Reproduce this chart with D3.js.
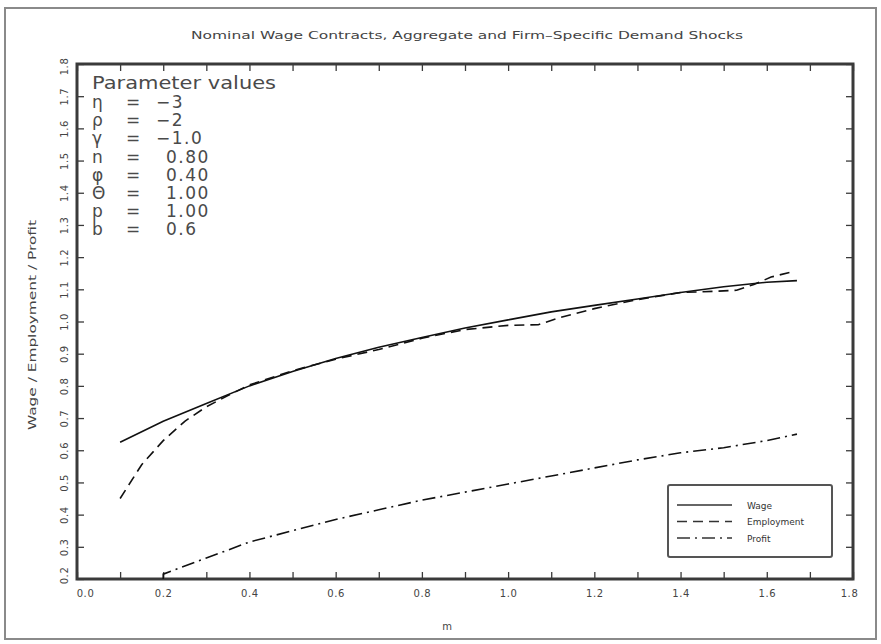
<!DOCTYPE html>
<html>
<head>
<meta charset="utf-8">
<script src="https://cdn.jsdelivr.net/npm/d3@7/dist/d3.min.js"></script>
<style>
  html, body { margin: 0; padding: 0; background: #fff; }
  svg { display: block; }
  text { font-family: "DejaVu Sans", sans-serif; }
</style>
</head>
<body>
<svg id="chart" width="881" height="644"></svg>
<script>
// ---------------- data ----------------
const titleText = "Nominal Wage Contracts, Aggregate and Firm\u2013Specific Demand Shocks";
const xTitle = "m";
const yTitle = "Wage / Employment / Profit";

const wageX = [0.10, 0.20, 0.30, 0.40, 0.50, 0.60, 0.70, 0.80, 0.90, 1.00, 1.10, 1.20, 1.30, 1.40, 1.50, 1.60, 1.67];
const wageY = [0.625, 0.690, 0.745, 0.800, 0.845, 0.885, 0.920, 0.950, 0.980, 1.005, 1.030, 1.050, 1.070, 1.090, 1.108, 1.122, 1.127];

const employmentX = [0.10, 0.15, 0.20, 0.25, 0.30, 0.35, 0.40, 0.50, 0.60, 0.70, 0.80, 0.90, 1.00, 1.07, 1.12, 1.20, 1.30, 1.40, 1.48, 1.53, 1.57, 1.61, 1.66];
const employmentY = [0.450, 0.555, 0.630, 0.690, 0.735, 0.770, 0.803, 0.847, 0.883, 0.913, 0.948, 0.975, 0.988, 0.990, 1.012, 1.040, 1.068, 1.090, 1.094, 1.097, 1.115, 1.138, 1.155];

const profitX = [0.20, 0.20, 0.30, 0.40, 0.50, 0.60, 0.70, 0.80, 0.90, 1.00, 1.10, 1.20, 1.30, 1.40, 1.50, 1.60, 1.67];
const profitY = [0.200, 0.215, 0.265, 0.315, 0.350, 0.385, 0.415, 0.445, 0.470, 0.495, 0.520, 0.545, 0.570, 0.592, 0.608, 0.630, 0.650];

const xTickValues = [0.0, 0.1, 0.2, 0.3, 0.4, 0.5, 0.6, 0.7, 0.8, 0.9, 1.0, 1.1, 1.2, 1.3, 1.4, 1.5, 1.6, 1.7, 1.8];
const xTickLabels = [0.0, 0.2, 0.4, 0.6, 0.8, 1.0, 1.2, 1.4, 1.6, 1.8];
const yTickValues = [0.2, 0.3, 0.4, 0.5, 0.6, 0.7, 0.8, 0.9, 1.0, 1.1, 1.2, 1.3, 1.4, 1.5, 1.6, 1.7, 1.8];

const paramHeader = "Parameter values";
const paramSymbols = ["\u03B7", "\u03C1", "\u03B3", "n", "\u03C6", "\u0398", "p", "b"];
const paramValues = ["\u22123", "\u22122", "\u22121.0", "0.80", "0.40", "1.00", "1.00", "0.6"];

const legendNames = ["Wage", "Employment", "Profit"];

// ---------------- layout ----------------
const svg = d3.select("#chart");
const plot = { left: 77, right: 853, top: 64, bottom: 579 };

const x = d3.scaleLinear().domain([0, 1.8]).range([plot.left, plot.right]);
const y = d3.scaleLinear().domain([0.2, 1.8]).range([plot.bottom, plot.top]);

const axisColor = "#3a3a3a";
const textColor = "#444";

// outer frame
svg.append("rect")
  .attr("x", 5).attr("y", 8).attr("width", 871).attr("height", 631)
  .attr("fill", "none").attr("stroke", "#8a8a8a").attr("stroke-width", 2);

// title
svg.append("text")
  .attr("x", 467).attr("y", 39)
  .attr("text-anchor", "middle")
  .attr("font-size", 10)
  .attr("fill", textColor)
  .attr("textLength", 552)
  .attr("lengthAdjust", "spacingAndGlyphs")
  .text(titleText);

function styleAxis(g) {
  g.select(".domain").remove();
  g.selectAll(".tick line").attr("stroke", axisColor).attr("stroke-width", 1.3);
  g.selectAll(".tick text").attr("fill", textColor).attr("font-size", 10)
    .attr("font-family", "DejaVu Sans, sans-serif");
}

const fmt = d3.format(".1f");

// bottom ticks (inward)
svg.append("g").attr("transform", `translate(0,${plot.bottom})`)
  .call(d3.axisBottom(x).tickValues(xTickValues).tickSize(-7).tickFormat(""))
  .call(styleAxis);
// bottom labels
svg.append("g").attr("transform", `translate(0,${plot.bottom})`)
  .call(d3.axisBottom(x).tickValues(xTickLabels).tickSize(0).tickPadding(11).tickFormat(fmt))
  .call(styleAxis)
  .call(g => g.selectAll(".tick text").attr("letter-spacing", 0.6)
    .attr("dx", (d, i) => d === 0 ? 8 : (d === 1.8 ? -4 : 0)));
// top ticks
svg.append("g").attr("transform", `translate(0,${plot.top})`)
  .call(d3.axisTop(x).tickValues(xTickValues).tickSize(-7).tickFormat(""))
  .call(styleAxis);
// left ticks + rotated labels
svg.append("g").attr("transform", `translate(${plot.left},0)`)
  .call(d3.axisLeft(y).tickValues(yTickValues).tickSize(-7).tickFormat(fmt))
  .call(styleAxis)
  .call(g => g.selectAll(".tick text")
    .attr("transform", "rotate(-90)")
    .attr("x", d => d === 0.2 ? 4 : (d === 1.8 ? -2 : 0))
    .attr("y", -9)
    .attr("dy", 0)
    .attr("letter-spacing", 0.6)
    .style("text-anchor", "middle"));
// right ticks
svg.append("g").attr("transform", `translate(${plot.right},0)`)
  .call(d3.axisRight(y).tickValues(yTickValues).tickSize(-7).tickFormat(""))
  .call(styleAxis);

// plot frame
svg.append("rect")
  .attr("x", plot.left).attr("y", plot.top)
  .attr("width", plot.right - plot.left).attr("height", plot.bottom - plot.top)
  .attr("fill", "none").attr("stroke", axisColor).attr("stroke-width", 3);

// axis titles
svg.append("text")
  .attr("x", 447).attr("y", 630)
  .attr("text-anchor", "middle").attr("font-size", 10).attr("fill", textColor)
  .text(xTitle);
svg.append("text")
  .attr("transform", "translate(36,325) rotate(-90)")
  .attr("text-anchor", "middle").attr("font-size", 10).attr("fill", textColor)
  .attr("textLength", 210).attr("lengthAdjust", "spacingAndGlyphs")
  .text(yTitle);

// ---------------- series ----------------
const line = d3.line().x(d => x(d[0])).y(d => y(d[1]));
const series = [
  { name: legendNames[0], pts: d3.zip(wageX, wageY), dash: null },
  { name: legendNames[1], pts: d3.zip(employmentX, employmentY), dash: "10,6" },
  { name: legendNames[2], pts: d3.zip(profitX, profitY), dash: "13,5,2,5" }
];
svg.append("g").selectAll("path").data(series).join("path")
  .attr("d", d => line(d.pts))
  .attr("fill", "none")
  .attr("stroke", "#111")
  .attr("stroke-width", 1.6)
  .attr("stroke-dasharray", d => d.dash);

// ---------------- parameter block ----------------
const pg = svg.append("g").attr("fill", "#4a4a4a");
pg.append("text")
  .attr("x", 92).attr("y", 89)
  .attr("font-size", 17)
  .attr("textLength", 184).attr("lengthAdjust", "spacingAndGlyphs")
  .text(paramHeader);
paramSymbols.forEach((s, i) => {
  const yy = 108 + i * 18.2;
  pg.append("text").attr("x", 92).attr("y", yy).attr("font-size", 17).text(s);
  pg.append("text").attr("x", 133).attr("y", yy).attr("font-size", 17)
    .attr("text-anchor", "middle").text("=");
  const v = paramValues[i];
  pg.append("text")
    .attr("x", v.startsWith("\u2212") ? 156 : 166)
    .attr("y", yy).attr("font-size", 17).attr("letter-spacing", 1.5)
    .text(v);
});

// ---------------- legend ----------------
const lg = svg.append("g");
lg.append("rect")
  .attr("x", 668).attr("y", 485).attr("width", 164).attr("height", 72)
  .attr("rx", 2)
  .attr("fill", "#fff").attr("stroke", "#555").attr("stroke-width", 2);
series.forEach((s, i) => {
  const yy = 505 + i * 16.5;
  lg.append("line")
    .attr("x1", 677).attr("x2", 732).attr("y1", yy).attr("y2", yy)
    .attr("stroke", "#333").attr("stroke-width", 1.4)
    .attr("stroke-dasharray", s.dash);
  lg.append("text")
    .attr("x", 747).attr("y", yy + 3.5)
    .attr("font-size", 9).attr("fill", "#333")
    .text(s.name);
});
</script>
</body>
</html>
